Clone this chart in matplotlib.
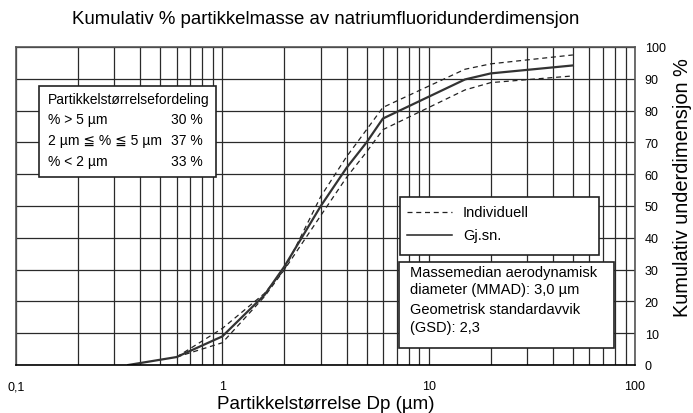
import numpy as np
import matplotlib.pyplot as plt
from matplotlib.patches import Rectangle
from matplotlib.ticker import FixedLocator, NullFormatter

plt.rcParams['font.family'] = ['Liberation Sans', 'DejaVu Sans']

# cumulative undersize (%) vs particle size (um)
dp_mean = [0.35, 0.6, 1.0, 1.6, 2.0, 3.0, 4.0, 5.0, 6.0, 15, 20, 50]
cum_mean = [0, 2.5, 9, 22, 31, 50, 62, 70, 77.5, 89.8, 91.7, 94.2]

dp_ind = [0.6, 1.0, 1.6, 2.0, 3.0, 4.0, 5.0, 6.0, 15, 20, 50]
cum_hi = [2.5, 11.5, 22.5, 30, 53, 65.5, 74, 81, 93, 94.7, 97.5]
cum_lo = [2.5, 7, 21.5, 30, 47, 59, 67, 74, 86.5, 88.8, 90.9]

x_ticks = [0.1, 1, 10, 100]
x_labels = ['0,1', '1', '10', '100']
y_ticks = list(range(0, 101, 10))

W, H = 693, 414
fig = plt.figure(figsize=(W / 100, H / 100), dpi=100)
ax = fig.add_axes([16 / W, 1 - 366 / H, (635 - 16) / W, (366 - 48) / H])

ax.set_xscale('log')
ax.set_xlim(0.1, 100)
ax.set_ylim(0, 100)

minors = [m * d for d in (0.1, 1, 10) for m in range(2, 10)]
ax.xaxis.set_minor_locator(FixedLocator(minors))
ax.xaxis.set_minor_formatter(NullFormatter())
ax.set_xticks(x_ticks)
ax.set_xticklabels(x_labels)
ax.set_yticks(y_ticks)

ax.grid(True, which='both', axis='x', color='#2a2a2a', lw=0.9)
ax.grid(True, which='major', axis='y', color='#2a2a2a', lw=0.9)

ax.yaxis.tick_right()
ax.tick_params(axis='both', which='both', length=0, labelsize=9, pad=7)
ax.tick_params(axis='x', pad=11)
for s in ax.spines.values():
    s.set_color('#555555')
    s.set_linewidth(1.2)
ax.spines['bottom'].set_color('black')

ax.plot(dp_ind, cum_hi, color='#222222', lw=0.9, ls=(0, (4, 3)))
ax.plot(dp_ind, cum_lo, color='#222222', lw=0.9, ls=(0, (4, 3)))
ax.plot(dp_mean, cum_mean, color='#333333', lw=1.6)

ax.set_xlabel('Partikkelstørrelse Dp (µm)', fontsize=13.5, labelpad=2)
fig.text(683 / W, 1 - 188 / H, 'Kumulativ underdimensjon %', rotation=90,
         ha='center', va='center', fontsize=14.4)
fig.text(326 / W, 1 - 19 / H, 'Kumulativ % partikkelmasse av natriumfluoridunderdimensjon',
         ha='center', va='center', fontsize=13.4)


def fx(px):
    return px / W


def fy(py):
    return 1 - py / H


def box(x0, y0, x1, y1):
    fig.patches.append(Rectangle((fx(x0), fy(y1)), fx(x1) - fx(x0), fy(y0) - fy(y1),
                                 transform=fig.transFigure, facecolor='white',
                                 edgecolor='#222222', lw=1.2, zorder=5))


# size distribution box
box(39, 87, 216, 178)
rows = [('% > 5 µm', '30 %'), ('2 µm ≦ % ≦ 5 µm', '37 %'), ('% < 2 µm', '33 %')]
fig.text(fx(48), fy(100), 'Partikkelstørrelsefordeling', fontsize=10, va='center', zorder=6)
for i, (a, b) in enumerate(rows):
    yy = fy(120.5 + i * 21)
    fig.text(fx(48), yy, a, fontsize=10, va='center', zorder=6)
    fig.text(fx(203), yy, b, fontsize=10, va='center', ha='right', zorder=6)

# legend box
box(400, 198, 599, 256)
fig.lines.append(plt.Line2D([fx(407), fx(452)], [fy(213), fy(213)], transform=fig.transFigure,
                            color='#222222', lw=0.9, ls=(0, (4, 3)), zorder=6))
fig.lines.append(plt.Line2D([fx(407), fx(452)], [fy(236), fy(236)], transform=fig.transFigure,
                            color='#222222', lw=1.1, zorder=6))
fig.text(fx(463), fy(213), 'Individuell', fontsize=10.5, va='center', zorder=6)
fig.text(fx(463), fy(236), 'Gj.sn.', fontsize=10.5, va='center', zorder=6)

# MMAD / GSD box
box(399, 263, 614, 349)
for t, yy in [('Massemedian aerodynamisk', 273.5), ('diameter (MMAD): 3,0 µm', 290),
              ('Geometrisk standardavvik', 310), ('(GSD): 2,3', 328)]:
    fig.text(fx(410), fy(yy), t, fontsize=10.5, va='center', zorder=6)

fig.savefig('out.png', dpi=100)
